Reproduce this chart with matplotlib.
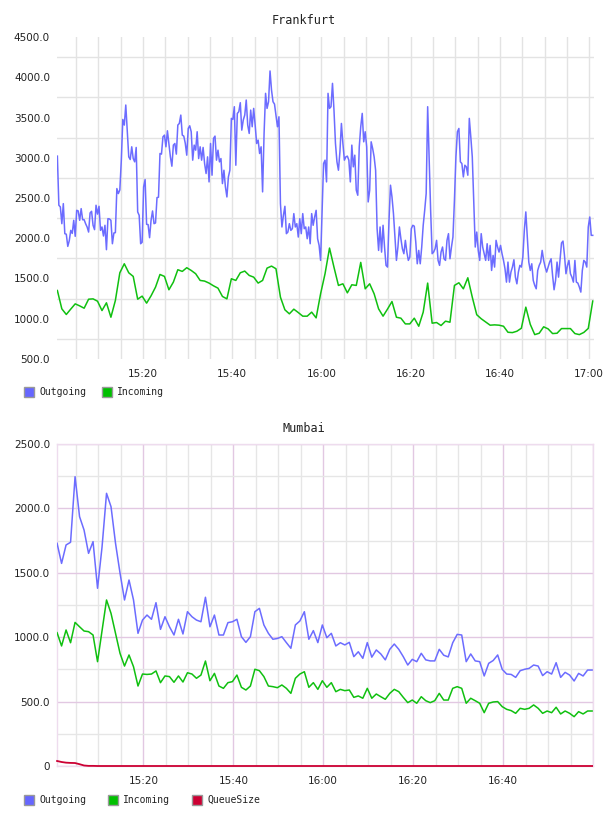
import numpy as np
import pandas as pd
import matplotlib
matplotlib.use("Agg")
import matplotlib.pyplot as plt
import matplotlib.dates as mdates
from matplotlib.patches import Rectangle
from matplotlib.ticker import FixedLocator, FuncFormatter

# ---------------- data ----------------
fr_out = [
    3020, 2410, 2389, 2181, 2430, 2057, 2050, 1899, 1970, 2098,
    2060, 2223, 2024, 2347, 2340, 2223, 2368, 2230, 2230, 2180,
    2140, 2077, 2314, 2335, 2161, 2107, 2410, 2300, 2397, 2098,
    2140, 2028, 2161, 1858, 2243, 2240, 2223, 1932, 2065, 2070,
    2617, 2555, 2600, 2970, 3476, 3406, 3655, 3343, 3011, 2978,
    3136, 2990, 2949, 3128, 2327, 2285, 1932, 1950, 2638, 2729,
    2173, 2170, 2007, 2223, 2339, 2181, 2190, 2505, 2510, 3053,
    3045, 3260, 3281, 3136, 3335, 3177, 3011, 2895, 3157, 3177,
    3045, 3406, 3426, 3530, 3281, 3269, 3180, 3032, 3364, 3397,
    3323,
    2970, 3157, 3094, 3323, 2990, 3136, 2970, 3128, 2928, 2804,
    3011, 2700, 3177, 2783, 3240, 3269, 2970, 3094, 2949, 2990,
    2679, 2845, 2638, 2513, 2762, 2845, 3489, 3476, 3634, 2907,
    3551, 3572, 3684, 3343, 3468, 3530, 3717, 3406, 3302, 3592,
    3385, 3613, 3406, 3177, 3219, 3053, 3136, 2576, 3302, 3800,
    3613, 3696, 4078, 3841, 3696, 3667, 3530, 3385, 3509, 2430,
    2140, 2285, 2397, 2057, 2077, 2181, 2098, 2119, 2306, 2140,
    2181, 2015, 2243, 2057, 2306, 2119, 2140, 1994, 2140, 1932,
    2306, 2161, 2264, 2347, 1994, 1911, 1725, 2347, 2928, 2970,
    2700,
    3800, 3613, 3634, 3924, 3592, 3177, 2949, 2845, 3074, 3426,
    3177, 2970, 3011, 3020, 2970, 2700, 3157, 2887, 3032, 2596,
    2534, 3136, 3385, 3551, 3198, 3323, 3136, 2451, 2596, 3198,
    3115, 3011, 2845, 2119, 1849, 2140, 1828, 2161, 1891, 1663,
    1642, 2223, 2659, 2513, 2306, 2015, 1725, 1891, 2140, 1994,
    1870, 1808, 1974, 1828, 1725, 1766, 2119, 2161, 2150, 1953,
    1683, 1849, 1683, 1891, 2161, 2347, 2555, 3634, 2970, 2347,
    1808, 1828, 1870, 1974, 1725, 1663, 1828, 1891, 1745, 1725,
    1974, 2057, 1745, 1891, 2015, 2472, 3011, 3323, 3364, 2949,
    2928, 2762, 2907, 2887, 2783, 3489, 3260, 3011, 2430, 1891,
    2077, 1849, 1725, 2057, 1891, 1808, 1725, 1932, 1725, 1911,
    1600, 1787, 1642, 1974, 1891, 1828, 1911, 1808, 1725, 1621,
    1455, 1704, 1455, 1580, 1642, 1733, 1517, 1434, 1580, 1663,
    1642, 1766, 2098, 2327, 2015, 1704, 1600, 1683, 1476, 1414,
    1372, 1600, 1663, 1704, 1849, 1725, 1642, 1580, 1642, 1704,
    1745, 1538, 1360, 1476, 1704, 1517, 1725, 1941, 1965, 1787,
    1559, 1663, 1725, 1559, 1517, 1455, 1725, 1455, 1443, 1393,
    1331, 1600, 1725, 1704, 1642, 2140, 2264, 2036, 2036,
]

fr_in = [
    1351, 1123, 1053, 1120, 1185, 1160, 1131, 1243, 1247, 1218,
    1102, 1198, 1019, 1227, 1571, 1683, 1571, 1526, 1243, 1281,
    1194, 1285, 1393, 1550, 1526, 1360, 1455, 1609, 1588, 1634,
    1600, 1559, 1476, 1468, 1443, 1409, 1380, 1277, 1247, 1497,
    1476, 1571, 1592, 1538, 1517, 1443, 1476, 1629, 1654, 1621,
    1268, 1111, 1061, 1119, 1077, 1032, 1032, 1082, 1011, 1310,
    1560, 1878, 1640, 1414, 1434, 1322, 1422, 1414, 1700, 1372,
    1434, 1310, 1123, 1032, 1120, 1214, 1019, 1007, 936, 936,
    1007, 907, 1082, 1443, 945, 953, 916, 970, 957, 1414,
    1447, 1372, 1509, 1268, 1050, 1000, 960, 920, 924, 920,
    907, 832, 828, 845, 882, 1144, 930, 803, 820, 900,
    874, 816, 820, 878, 878, 878, 816, 803, 830, 880,
    1220,
]

mu_out = [
    1729, 1573, 1716, 1737, 2246, 1936, 1832, 1651, 1742, 1380,
    1700, 2117, 2013, 1729, 1498, 1289, 1444, 1289, 1030, 1133,
    1172, 1139, 1268, 1061, 1159, 1081, 1017, 1139, 1025, 1198,
    1159, 1133, 1120, 1310, 1081, 1172, 1017, 1017, 1113, 1120,
    1139, 1004, 960, 1004, 1198, 1224, 1095, 1030, 984, 990,
    1004, 958, 914, 1095, 1126, 1198, 984, 1051, 958, 1095,
    996, 1030, 932, 957, 940, 960, 849, 887, 836, 958,
    845, 901, 870, 824, 906, 947, 906, 849, 784, 828,
    810, 875, 824, 816, 816, 906, 860, 847, 957, 1022,
    1017, 810, 870, 816, 810, 699, 797, 819, 862, 751,
    714, 711, 688, 740, 751, 758, 784, 776, 702, 732,
    714, 802, 688, 727, 706, 660, 719, 699, 745, 745,
]

mu_in = [
    1035, 932, 1056, 957, 1115, 1081, 1048, 1043, 1017, 810,
    1050, 1289, 1185, 1030, 875, 776, 862, 771, 621, 714,
    711, 714, 738, 647, 699, 694, 650, 699, 652, 724,
    714, 681, 706, 815, 662, 719, 621, 603, 647, 655,
    706, 611, 590, 621, 751, 740, 694, 621, 616, 608,
    629, 603, 564, 681, 714, 732, 611, 647, 595, 662,
    611, 647, 577, 595, 585, 590, 533, 544, 526, 603,
    526, 559, 538, 518, 564, 595, 577, 533, 492, 512,
    487, 538, 507, 492, 507, 564, 512, 512, 603, 616,
    603, 487, 526, 507, 487, 414, 487, 497, 500, 461,
    440, 430, 409, 448, 440, 448, 474, 448, 409, 427,
    414, 456, 404, 427, 409, 383, 422, 404, 427, 427,
]

mu_queue = [
    39, 31, 26, 24, 23, 14, 4, 1, 1, 0,
    0, 0, 0, 0, 0, 0, 0, 0, 0, 0,
    0, 0, 0, 0, 0, 0, 0, 0, 0, 0,
    0, 0, 0, 0, 0, 0, 0, 0, 0, 0,
    0, 0, 0, 0, 0, 0, 0, 0, 0, 0,
    0, 0, 0, 0, 0, 0, 0, 0, 0, 0,
    0, 0, 0, 0, 0, 0, 0, 0, 0, 0,
    0, 0, 0, 0, 0, 0, 0, 0, 0, 0,
    0, 0, 0, 0, 0, 0, 0, 0, 0, 0,
    0, 0, 0, 0, 0, 0, 0, 0, 0, 0,
    0, 0, 0, 0, 0, 0, 0, 0, 0, 0,
    0, 0, 0, 0, 0, 0, 0, 0, 0, 0,
]

start = pd.Timestamp("2024-01-01 15:00:48")
t_fr_out = pd.date_range(start, periods=len(fr_out), freq="20s")
t_fr_in = pd.date_range(start, periods=len(fr_in), freq="60s")
t_mu = pd.date_range(start, periods=len(mu_out), freq="60s")

fr_ticks = [500, 1000, 1500, 2000, 2500, 3000, 3500, 4000, 4500]
fr_grid = [750, 1250, 1750, 2250, 2750, 3250, 3750, 4250]
mu_ticks = [0, 500, 1000, 1500, 2000, 2500]
mu_grid = [250, 750, 1250, 1750, 2250]

C_OUT = "#6c6cff"
C_IN = "#10c010"
C_Q = "#cc0033"
SW_OUT = "#6666ff"
SW_IN = "#00c000"
SW_Q = "#cc0033"

W, H = 608, 816
fig = plt.figure(figsize=(W / 100, H / 100), dpi=100)
fig.patch.set_facecolor("white")

def fx(px):
    return px / W

def fy(py):
    return 1 - py / H

def make_ax(top, bottom, left=57, right=594):
    return fig.add_axes([fx(left), fy(bottom), (right - left) / W, (bottom - top) / H])

day = pd.Timestamp("2024-01-01")
TICKFONT = dict(family="DejaVu Sans", size=7.5)

# ---------------- Frankfurt ----------------
ax1 = make_ax(37, 359)
ax1.plot(t_fr_out, fr_out, color=C_OUT, lw=1.1, zorder=3)
ax1.plot(t_fr_in, fr_in, color=C_IN, lw=1.1, zorder=3)
ax1.set_ylim(500, 4500)
ax1.set_xlim(pd.Timestamp("2024-01-01 15:00:43"), pd.Timestamp("2024-01-01 17:01:05"))
ax1.yaxis.set_major_locator(FixedLocator(fr_ticks))
ax1.yaxis.set_minor_locator(FixedLocator(fr_grid))
ax1.yaxis.set_major_formatter(FuncFormatter(lambda v, p: f"{v:.1f}"))
ax1.xaxis.set_major_locator(mdates.MinuteLocator(byminute=[0, 20, 40]))
ax1.xaxis.set_minor_locator(mdates.MinuteLocator(byminute=range(0, 60, 5)))
ax1.xaxis.set_major_formatter(mdates.DateFormatter("%H:%M"))
ax1.grid(False)
ax1.grid(True, which="minor", axis="both", color="#e3e3e3", lw=1.0, zorder=0)
ax1.grid(True, which="major", axis="x", color="#e3e3e3", lw=1.0, zorder=0)
for s in ax1.spines.values():
    s.set_visible(False)
ax1.tick_params(which="both", length=0)
ax1.tick_params(axis="y", pad=5)
ax1.tick_params(axis="x", pad=7)
for lab in ax1.get_xticklabels() + ax1.get_yticklabels():
    lab.set_fontfamily(TICKFONT["family"])
    lab.set_fontsize(TICKFONT["size"])
    lab.set_color("#222222")
ax1.set_axisbelow(True)

fig.text(0.5, fy(20), "Frankfurt", ha="center", va="center",
         family="DejaVu Sans Mono", fontsize=8.5, color="#222222")

# ---------------- Mumbai ----------------
ax2 = make_ax(444, 766, right=593)
ax2.plot(t_mu, mu_out, color=C_OUT, lw=1.1, zorder=3)
ax2.plot(t_mu, mu_in, color=C_IN, lw=1.1, zorder=3)
ax2.plot(t_mu, mu_queue, color=C_Q, lw=1.3, zorder=4, clip_on=False)
ax2.set_ylim(0, 2500)
ax2.set_xlim(pd.Timestamp("2024-01-01 15:00:47"), pd.Timestamp("2024-01-01 17:00:00"))
ax2.yaxis.set_major_locator(FixedLocator(mu_ticks))
ax2.yaxis.set_minor_locator(FixedLocator(mu_grid))
ax2.yaxis.set_major_formatter(FuncFormatter(lambda v, p: "0" if v == 0 else f"{v:.1f}"))
ax2.xaxis.set_major_locator(mdates.MinuteLocator(byminute=[0, 20, 40]))
ax2.xaxis.set_minor_locator(mdates.MinuteLocator(byminute=range(0, 60, 5)))
ax2.xaxis.set_major_formatter(FuncFormatter(
    lambda v, p: "" if mdates.num2date(v).strftime("%H:%M") == "17:00" else mdates.num2date(v).strftime("%H:%M")))
ax2.grid(False)
ax2.grid(True, which="minor", axis="both", color="#e6e6e6", lw=1.0, zorder=0)
ax2.grid(True, which="major", axis="both", color="#e2c8e2", lw=1.0, zorder=1)
for name, s in ax2.spines.items():
    s.set_color("#eedcee")
    s.set_linewidth(1.0)
ax2.tick_params(which="both", length=0)
ax2.tick_params(axis="y", pad=5)
ax2.tick_params(axis="x", pad=7)
for lab in ax2.get_xticklabels() + ax2.get_yticklabels():
    lab.set_fontfamily(TICKFONT["family"])
    lab.set_fontsize(TICKFONT["size"])
    lab.set_color("#222222")
ax2.set_axisbelow(True)

fig.text(0.5, fy(428), "Mumbai", ha="center", va="center",
         family="DejaVu Sans Mono", fontsize=8.5, color="#222222")

# ---------------- legends ----------------
def legend(items, ycen):
    for x0, color, label in items:
        fig.add_artist(Rectangle((fx(x0), fy(ycen + 5)), 10 / W, 10 / H,
                                 transform=fig.transFigure, facecolor=color,
                                 edgecolor="#999999", lw=1.0))
        fig.text(fx(x0 + 15), fy(ycen), label, ha="left", va="center",
                 family="DejaVu Sans Mono", fontsize=7, color="#222222")

legend([(24, SW_OUT, "Outgoing"), (102, SW_IN, "Incoming")], 392)
legend([(24, SW_OUT, "Outgoing"), (108, SW_IN, "Incoming"), (192, SW_Q, "QueueSize")], 800)

fig.savefig("out.png", dpi=100)
